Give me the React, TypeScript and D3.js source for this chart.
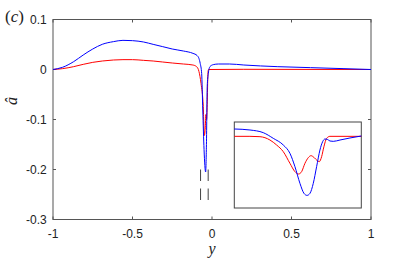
import React, { useEffect, useRef } from 'react';
import * as d3 from 'd3';

// main plot: blue curve
const blueY = [-1, -0.94, -0.87, -0.81, -0.75, -0.69, -0.62, -0.56, -0.5, -0.43, -0.37, -0.31, -0.25, -0.18, -0.12, -0.094, -0.082, -0.074, -0.065, -0.058, -0.05, -0.04, -0.035, -0.03, -0.023, -0.013, 0.008, 0.04, 0.11, 0.2, 0.41, 0.62, 0.83, 1];
const blueA = [0, 0.0044, 0.0157, 0.029, 0.041, 0.0504, 0.0557, 0.0583, 0.0577, 0.055, 0.0503, 0.0457, 0.041, 0.037, 0.0323, 0.028, 0.022, 0.012, -0.008, -0.081, -0.16, -0.205, -0.15, -0.034, -0.008, 0.0057, 0.0097, 0.011, 0.011, 0.009, 0.0057, 0.0037, 0.0017, 0];

// main plot: red curve
const redY = [-1, -0.94, -0.87, -0.81, -0.75, -0.69, -0.62, -0.56, -0.5, -0.43, -0.37, -0.31, -0.25, -0.18, -0.12, -0.097, -0.082, -0.069, -0.055, -0.048, -0.043, -0.038, -0.034, -0.03, -0.026, -0.022, 0.2, 1];
const redA = [0, 0.0017, 0.0057, 0.0103, 0.0143, 0.017, 0.019, 0.0197, 0.0197, 0.0183, 0.017, 0.015, 0.013, 0.011, 0.009, 0.0057, -0.004, -0.028, -0.074, -0.132, -0.12, -0.09, -0.1, -0.07, -0.01, 0, 0.0004, 0];

// inset: blue and red
const insetBlueY = [-0.13, -0.1103, -0.0935, -0.0809, -0.0683, -0.0599, -0.0536, -0.0473, -0.0422, -0.0384, -0.0347, -0.0305, -0.0263, -0.0221, -0.0187, -0.0158, -0.0128, -0.0095, -0.0053, 0.0032, 0.0157, 0.03];
const insetBlueA = [0.0256, 0.0221, 0.0128, -0.007, -0.0302, -0.0593, -0.1058, -0.164, -0.199, -0.206, -0.199, -0.164, -0.1058, -0.0477, -0.0186, -0.0093, -0.0105, -0.0163, -0.0175, -0.0128, -0.0058, 0.0012];
const insetRedY = [-0.13, -0.1103, -0.0977, -0.0851, -0.0767, -0.0683, -0.0599, -0.0536, -0.049, -0.0452, -0.041, -0.0368, -0.0334, -0.0297, -0.0255, -0.0229, -0.02, -0.0171, -0.0137, -0.0095, 0.03];
const insetRedA = [0, 0, -0.0012, -0.0128, -0.0302, -0.0535, -0.0942, -0.1233, -0.1314, -0.1233, -0.0942, -0.0744, -0.0675, -0.0733, -0.0849, -0.0884, -0.071, -0.0361, -0.007, 0, 0];

const xTicks = [-1, -0.5, 0, 0.5, 1];
const yTicks = [-0.3, -0.2, -0.1, 0, 0.1];
const markerY = [-0.072, -0.024];
const markerA = [-0.2, -0.263];

function App() {
  const ref = useRef<SVGSVGElement>(null);

  useEffect(() => {
    const svg = d3.select(ref.current);
    svg.selectAll('*').remove();
    const left = 53, right = 371, top = 19.5, bottom = 219.5;

    const x = d3.scaleLinear().domain([-1, 1]).range([left, right]);
    const y = d3.scaleLinear().domain([-0.3, 0.1]).range([bottom, top]);
    const axisColor = '#555';
    const tickFont = 'Liberation Sans, Arial, sans-serif';

    // box
    svg.append('rect')
      .attr('x', left).attr('y', top)
      .attr('width', right - left).attr('height', bottom - top)
      .attr('fill', 'none').attr('stroke', axisColor).attr('stroke-width', 1);

    // ticks
    xTicks.forEach(t => {
      svg.append('line').attr('x1', x(t)).attr('x2', x(t)).attr('y1', bottom).attr('y2', bottom - 3).attr('stroke', axisColor);
      svg.append('line').attr('x1', x(t)).attr('x2', x(t)).attr('y1', top).attr('y2', top + 3).attr('stroke', axisColor);
      svg.append('text').attr('x', x(t)).attr('y', 237.5)
        .attr('text-anchor', 'middle').attr('font-family', tickFont).attr('font-size', 12).attr('fill', '#222')
        .text(String(t));
    });
    yTicks.forEach(t => {
      svg.append('line').attr('x1', left).attr('x2', left + 3).attr('y1', y(t)).attr('y2', y(t)).attr('stroke', axisColor);
      svg.append('line').attr('x1', right).attr('x2', right - 3).attr('y1', y(t)).attr('y2', y(t)).attr('stroke', axisColor);
      svg.append('text').attr('x', 46.7).attr('y', y(t) + 4.3)
        .attr('text-anchor', 'end').attr('font-family', tickFont).attr('font-size', 12).attr('fill', '#222')
        .text(String(t));
    });

    const line = d3.line<[number, number]>()
      .x(d => x(d[0])).y(d => y(d[1]))
      .curve(d3.curveMonotoneX);

    svg.append('path').datum(d3.zip(redY, redA) as [number, number][])
      .attr('fill', 'none').attr('stroke', '#ff0000').attr('stroke-width', 1).attr('d', line);
    svg.append('path').datum(d3.zip(blueY, blueA) as [number, number][])
      .attr('fill', 'none').attr('stroke', '#0000ff').attr('stroke-width', 1).attr('d', line);

    // dashed markers
    markerY.forEach(m => {
      svg.append('line')
        .attr('x1', x(m)).attr('x2', x(m)).attr('y1', y(markerA[0])).attr('y2', y(markerA[1]))
        .attr('stroke', '#444').attr('stroke-width', 1).attr('stroke-dasharray', '11.5 7.5');
    });

    // inset
    const ix = d3.scaleLinear().domain([-0.13, 0.03]).range([234.3, 361.3]);
    const iy = d3.scaleLinear().domain([-0.25, 0.05]).range([208, 122]);
    svg.append('rect')
      .attr('x', 234.3).attr('y', 122).attr('width', 127).attr('height', 86)
      .attr('fill', '#fff').attr('stroke', '#444').attr('stroke-width', 1);
    const iline = d3.line<[number, number]>()
      .x(d => ix(d[0])).y(d => iy(d[1]))
      .curve(d3.curveMonotoneX);
    svg.append('path').datum(d3.zip(insetRedY, insetRedA) as [number, number][])
      .attr('fill', 'none').attr('stroke', '#ff0000').attr('stroke-width', 1).attr('d', iline);
    svg.append('path').datum(d3.zip(insetBlueY, insetBlueA) as [number, number][])
      .attr('fill', 'none').attr('stroke', '#0000ff').attr('stroke-width', 1).attr('d', iline);

    // labels
    svg.append('text').attr('x', x(0)).attr('y', 253.5)
      .attr('text-anchor', 'middle').attr('font-family', 'Liberation Serif, serif')
      .attr('font-style', 'italic').attr('font-size', 16).attr('fill', '#222').text('y');
    svg.append('text')
      .attr('transform', 'translate(17,101) rotate(-90)')
      .attr('text-anchor', 'middle').attr('font-family', 'Liberation Serif, serif')
      .attr('font-style', 'italic').attr('font-size', 16).attr('fill', '#222').text('â');
    svg.append('text').attr('x', 5).attr('y', 21.5)
      .attr('font-family', 'Liberation Serif, serif').attr('font-size', 17).attr('fill', '#222')
      .text('(')
      .append('tspan').attr('font-style', 'italic').text('c')
      .select(function () { return this.parentNode as any; })
      .append('tspan').text(')');
  }, []);

  return (
    <svg ref={ref} width="411" height="260" style={{ position: 'absolute', left: 0, top: 0, background: '#fff' }} />
  );
}

export default App;
